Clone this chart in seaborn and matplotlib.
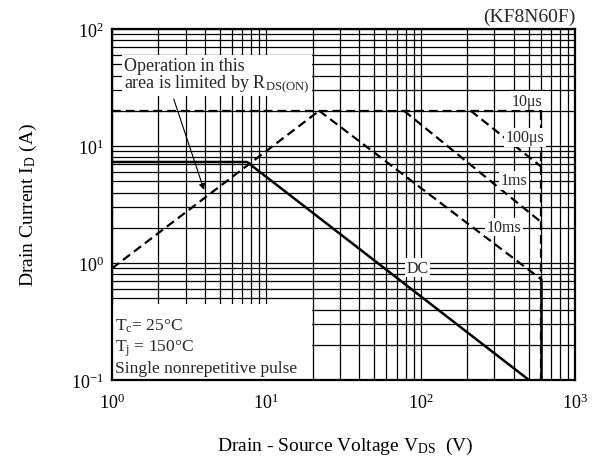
import matplotlib
matplotlib.use("Agg")
import matplotlib.pyplot as plt
import seaborn as sns
from matplotlib.patches import Rectangle

# ─── Data ─────────────────────────────────────────────────────────────────────
X_TICKS = [1, 10, 100, 1000]
Y_TICKS = [0.1, 1, 10, 100]

# pulsed drain current limit
limit_v = [1, 600]
limit_i = [20, 20]

# R_DS(on) limit
rds_v = [1, 22]
rds_i = [0.9, 20]

# pulse-width curves
us100_v = [211, 600]
us100_i = [20, 6.7]
ms1_v = [78, 600]
ms1_i = [20, 2.25]
ms10_v = [22, 600]
ms10_i = [20, 0.73]

# breakdown voltage edge
bv_v = [600, 600]
bv_i = [20, 0.1]
bv_dc_v = [600, 600]
bv_dc_i = [0.73, 0.1]

# DC operation
dc_v = [1, 7.5, 503]
dc_i = [7.3, 7.3, 0.1]

# curve labels: text, voltage, current
curve_labels = ["10μs", "100μs", "1ms", "10ms", "DC"]
label_v = [488, 473, 402, 346, 96]
label_i = [24.3, 11.9, 5.1, 2.03, 0.91]

# ─── Style ────────────────────────────────────────────────────────────────────
sns.set_theme(style="white")
plt.rcParams["font.family"] = ["Liberation Serif", "DejaVu Serif"]
plt.rcParams["mathtext.fontset"] = "custom"
plt.rcParams["mathtext.rm"] = "Liberation Serif"
plt.rcParams["mathtext.it"] = "Liberation Serif:italic"
plt.rcParams["axes.unicode_minus"] = False

fig = plt.figure(figsize=(6.09, 4.64), dpi=100)
ax = fig.add_axes([112 / 609, 1 - 381 / 464, 463 / 609, 351 / 464])
ax.set_xscale("log")
ax.set_yscale("log")
ax.set_xlim(1, 1000)
ax.set_ylim(0.1, 100)

ax.set_axisbelow(True)
ax.grid(which="both", color="black", lw=0.9)
ax.set_xticks(X_TICKS)
ax.set_yticks(Y_TICKS)
ax.tick_params(which="both", length=0, labelsize=13, colors="black")
ax.tick_params(axis="x", pad=9)
ax.tick_params(axis="y", pad=6)
for s in ax.spines.values():
    s.set_color("black")
    s.set_linewidth(1.6)

# white masks over the grid behind the text blocks
ax.add_patch(Rectangle((1.16, 26.5), 19.7 - 1.16, 60 - 26.5,
                       facecolor="white", edgecolor="none", zorder=1.5))
ax.add_patch(Rectangle((1, 0.1), 19.7 - 1, 0.446 - 0.1,
                       facecolor="white", edgecolor="none", zorder=1.5))

dash = dict(color="black", lw=1.6, linestyle=(0, (4, 2.2)),
            sort=False, estimator=None, ax=ax, zorder=3)
sns.lineplot(x=limit_v, y=limit_i, **dash)
sns.lineplot(x=rds_v, y=rds_i, **dash)
sns.lineplot(x=us100_v, y=us100_i, **dash)
sns.lineplot(x=ms1_v, y=ms1_i, **dash)
sns.lineplot(x=ms10_v, y=ms10_i, **dash)
sns.lineplot(x=bv_v, y=bv_i, **dash)

solid = dict(color="black", lw=1.8, sort=False, estimator=None, ax=ax, zorder=3)
sns.lineplot(x=dc_v, y=dc_i, **solid)
sns.lineplot(x=bv_dc_v, y=bv_dc_i, **solid)

for txt, v, i in zip(curve_labels, label_v, label_i):
    ax.text(v, i, txt, ha="center", va="center", fontsize=11.5, zorder=4,
            bbox=dict(facecolor="white", edgecolor="none", pad=1))

ax.text(1.2, 40, "Operation in this\narea is limited by R$_\\mathrm{DS(ON)}$",
        ha="left", va="center", fontsize=13, linespacing=0.85, zorder=4)
ax.annotate("", xy=(4.0, 4.0), xytext=(2.48, 26.5),
            arrowprops=dict(arrowstyle="-|>", color="black", lw=0.8,
                            mutation_scale=9), zorder=4)

ax.text(1.05, 0.108,
        "T$_\\mathrm{c}$= 25°C\nT$_\\mathrm{j}$ = 150°C\nSingle nonrepetitive pulse",
        ha="left", va="bottom", fontsize=12.5, linespacing=1.2, zorder=4)

ax.text(1.0, 1.012, "(KF8N60F)", transform=ax.transAxes, ha="right",
        va="bottom", fontsize=14)

ax.set_xlabel("Drain - Source Voltage V$_\\mathrm{DS}$  (V)", fontsize=14, color="black")
ax.set_ylabel("Drain Current I$_\\mathrm{D}$ (A)", fontsize=14, color="black")
ax.xaxis.set_label_coords(0.503, -0.155)
ax.yaxis.set_label_coords(-0.158, 0.5)

fig.savefig("out.png", dpi=100)
